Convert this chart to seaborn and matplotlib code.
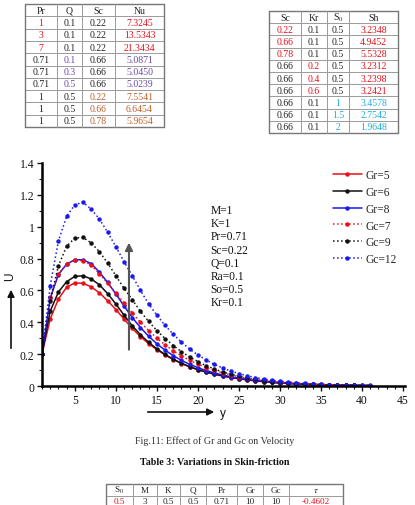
import numpy as np
import pandas as pd
import matplotlib
matplotlib.use("Agg")
import matplotlib.pyplot as plt
from matplotlib.lines import Line2D
from matplotlib.patches import FancyArrowPatch
from matplotlib.ticker import MultipleLocator
import seaborn as sns

# ---------------- data ----------------
y_pos = list(range(1, 42))

gr5 = [0.20, 0.42, 0.546, 0.62, 0.647, 0.645, 0.622, 0.585, 0.535, 0.48, 0.42,
       0.362, 0.31, 0.266, 0.228, 0.195, 0.166, 0.141, 0.12, 0.102, 0.087, 0.074,
       0.063, 0.053, 0.045, 0.038, 0.032, 0.027, 0.023, 0.019, 0.016, 0.013, 0.011,
       0.009, 0.008, 0.006, 0.005, 0.004, 0.004, 0.003, 0.003]
gr6 = [0.20, 0.47, 0.59, 0.655, 0.688, 0.692, 0.672, 0.635, 0.58, 0.515, 0.445,
       0.378, 0.322, 0.274, 0.233, 0.198, 0.168, 0.143, 0.121, 0.103, 0.088, 0.075,
       0.064, 0.054, 0.046, 0.039, 0.033, 0.028, 0.023, 0.019, 0.016, 0.013, 0.011,
       0.009, 0.008, 0.006, 0.005, 0.004, 0.004, 0.003, 0.003]
gr8 = [0.20, 0.55, 0.70, 0.765, 0.793, 0.792, 0.768, 0.715, 0.65, 0.578, 0.502,
       0.43, 0.367, 0.312, 0.265, 0.225, 0.19, 0.161, 0.136, 0.115, 0.097, 0.082,
       0.069, 0.058, 0.049, 0.041, 0.035, 0.029, 0.024, 0.020, 0.017, 0.014, 0.012,
       0.010, 0.008, 0.007, 0.006, 0.005, 0.004, 0.003, 0.003]
gc7 = [0.20, 0.56, 0.703, 0.766, 0.79, 0.787, 0.757, 0.705, 0.645, 0.585, 0.52,
       0.458, 0.40, 0.348, 0.30, 0.258, 0.221, 0.189, 0.161, 0.137, 0.116, 0.098,
       0.083, 0.070, 0.059, 0.049, 0.041, 0.035, 0.029, 0.024, 0.020, 0.017, 0.014,
       0.012, 0.010, 0.008, 0.007, 0.006, 0.005, 0.004, 0.003]
gc9 = [0.20, 0.535, 0.755, 0.877, 0.929, 0.933, 0.898, 0.843, 0.772, 0.692, 0.613,
       0.542, 0.468, 0.405, 0.348, 0.298, 0.254, 0.215, 0.182, 0.153, 0.128, 0.107,
       0.089, 0.074, 0.061, 0.050, 0.041, 0.034, 0.028, 0.023, 0.019, 0.015, 0.012,
       0.010, 0.008, 0.007, 0.005, 0.004, 0.004, 0.003, 0.003]
gc12 = [0.20, 0.63, 0.91, 1.065, 1.138, 1.153, 1.11, 1.048, 0.965, 0.875, 0.78,
        0.692, 0.60, 0.515, 0.445, 0.38, 0.325, 0.275, 0.232, 0.195, 0.163, 0.136,
        0.113, 0.094, 0.078, 0.064, 0.053, 0.044, 0.036, 0.030, 0.025, 0.020, 0.017,
        0.014, 0.011, 0.009, 0.008, 0.006, 0.005, 0.004, 0.004]

series_labels = ["Gr=5", "Gr=6", "Gr=8", "Gc=7", "Gc=9", "Gc=12"]
series_values = [gr5, gr6, gr8, gc7, gc9, gc12]

params_text = ["M=1", "K=1", "Pr=0.71", "Sc=0.22", "Q=0.1", "Ra=0.1", "So=0.5", "Kr=0.1"]

# Table 1
t1_header = ["Pr", "Q", "Sc", "Nu"]
t1_Pr = ["1", "3", "7", "0.71", "0.71", "0.71", "1", "1", "1"]
t1_Q = ["0.1", "0.1", "0.1", "0.1", "0.3", "0.5", "0.5", "0.5", "0.5"]
t1_Sc = ["0.22", "0.22", "0.22", "0.66", "0.66", "0.66", "0.22", "0.66", "0.78"]
t1_Nu = ["7.3245", "13.5343", "21.3434", "5.0871", "5.0450", "5.0239", "7.5541", "6.6454", "5.9654"]

# Table 2
t2_header = ["Sc", "Kr", "S$_0$", "Sh"]
t2_Sc = ["0.22", "0.66", "0.78", "0.66", "0.66", "0.66", "0.66", "0.66", "0.66"]
t2_Kr = ["0.1", "0.1", "0.1", "0.2", "0.4", "0.6", "0.1", "0.1", "0.1"]
t2_S0 = ["0.5", "0.5", "0.5", "0.5", "0.5", "0.5", "1", "1.5", "2"]
t2_Sh = ["3.2348", "4.9452", "5.5328", "3.2312", "3.2398", "3.2421", "3.4578", "2.7542", "1.9648"]

# Table 3
t3_header = ["S$_0$", "M", "K", "Q", "Pr", "Gr", "Gc", r"$\tau$"]
t3_row1 = ["0.5", "3", "0.5", "0.5", "0.71", "10", "10", "-0.4602"]

caption = "Fig.11: Effect of Gr and Gc on Velocity"
table_title = "Table 3: Variations in Skin-friction"

# ---------------- style ----------------
sns.set_theme(style="ticks")
plt.rcParams["font.family"] = ["Liberation Serif", "DejaVu Serif"]
plt.rcParams["mathtext.fontset"] = "stix"

W, H = 415, 506
fig = plt.figure(figsize=(W / 100, H / 100), dpi=100)
fig.patch.set_facecolor("white")

RED = "#e8101a"
BLACK = "#111111"
BLUE = "#1a1aee"
PURPLE = "#6a48a8"
BROWN = "#c0602a"
CYAN = "#1cb0e0"
TXT = "#222222"

def fx(px):
    return px / W

def fy(py):
    return 1 - py / H

def draw_table(col_edges, top, row_hs, rows, colors, fs):
    edges_y = [top]
    for h in row_hs:
        edges_y.append(edges_y[-1] + h)
    nrows = len(rows)
    for i, ye in enumerate(edges_y):
        outer = i in (0, nrows)
        fig.add_artist(Line2D([fx(col_edges[0]), fx(col_edges[-1])], [fy(ye), fy(ye)],
                              transform=fig.transFigure,
                              color="#777777" if outer else "#9a9a9a",
                              lw=1.0 if outer else 0.7))
    for j, xe in enumerate(col_edges):
        outer = j in (0, len(col_edges) - 1)
        fig.add_artist(Line2D([fx(xe), fx(xe)], [fy(edges_y[0]), fy(edges_y[-1])],
                              transform=fig.transFigure,
                              color="#777777" if outer else "#9a9a9a",
                              lw=1.0 if outer else 0.7))
    for i, row in enumerate(rows):
        for j, txt in enumerate(row):
            cx = (col_edges[j] + col_edges[j + 1]) / 2
            cy = (edges_y[i] + edges_y[i + 1]) / 2
            fig.text(fx(cx), fy(cy), txt, ha="center", va="center",
                     fontsize=fs, color=colors[i][j])

# Table 1
rows1 = [t1_header] + [[a, b, c, d] for a, b, c, d in zip(t1_Pr, t1_Q, t1_Sc, t1_Nu)]
cols1 = [[TXT] * 4]
for i in range(9):
    c = [TXT] * 4
    if i < 3:
        c[0] = RED; c[3] = RED
    elif i < 6:
        c[1] = PURPLE; c[3] = PURPLE
    else:
        c[2] = BROWN; c[3] = BROWN
    cols1.append(c)
draw_table([25, 57, 82, 115, 164], 5, [12.3] * 10, rows1, cols1, 7)

# Table 2
rows2 = [t2_header] + [[a, b, c, d] for a, b, c, d in zip(t2_Sc, t2_Kr, t2_S0, t2_Sh)]
cols2 = [[TXT] * 4]
for i in range(9):
    c = [TXT] * 4
    if i < 3:
        c[0] = RED; c[3] = RED
    elif i < 6:
        c[1] = RED; c[3] = RED
    else:
        c[2] = CYAN; c[3] = CYAN
    cols2.append(c)
draw_table([269, 301, 327, 349, 398], 12, [12.2] * 10, rows2, cols2, 7)

# Table 3
rows3 = [t3_header, t3_row1]
cols3 = [[TXT] * 8, [RED, TXT, TXT, TXT, TXT, TXT, TXT, RED]]
draw_table([106, 132.7, 156.7, 180, 206, 237.3, 263.3, 288.7, 343.3], 485,
           [11.5, 11.5], rows3, cols3, 6.6)

# captions
fig.text(fx(215), fy(441.5), caption, ha="center", va="center", fontsize=7.2, color="#333333")
fig.text(fx(215), fy(462.5), table_title, ha="center", va="center", fontsize=7.2,
         fontweight="bold", color="#111111")

# ---------------- chart ----------------
ax = fig.add_axes([fx(42), fy(387), (405 - 42) / W, (387 - 164) / H])
ax.set_facecolor("white")

styles = [
    (RED, "-"), (BLACK, "-"), (BLUE, "-"),
    (RED, ":"), (BLACK, ":"), (BLUE, ":"),
]
for lab, vals, (col, ls) in zip(series_labels, series_values, styles):
    df = pd.DataFrame({"y": y_pos, "U": vals})
    sns.lineplot(data=df, x="y", y="U", ax=ax, color=col, linestyle=ls,
                 lw=1.1, marker="o", markersize=3.2, markeredgewidth=0,
                 label=lab)

ax.set_xlim(1, 45.24)
ax.set_ylim(0, 1.4)
ax.xaxis.set_minor_locator(MultipleLocator(1))
ax.yaxis.set_major_locator(MultipleLocator(0.2))
ax.yaxis.set_minor_locator(MultipleLocator(0.1))
ax.yaxis.set_major_formatter(plt.FuncFormatter(lambda v, p: "%g" % round(v, 2)))
ax.set_xticks([5, 10, 15, 20, 25, 30, 35, 40, 45])
ax.tick_params(axis="both", which="major", direction="out", length=3.5, width=1,
               labelsize=8.4, colors="#111111", pad=2)
ax.tick_params(axis="both", which="minor", direction="out", length=2, width=0.8,
               colors="#111111")
for s in ["top", "right"]:
    ax.spines[s].set_visible(False)
for s in ["left", "bottom"]:
    ax.spines[s].set_linewidth(1.8)
    ax.spines[s].set_color("#000000")
ax.set_xlabel("")
ax.set_ylabel("")

leg = ax.legend(loc="upper left", bbox_to_anchor=((333 - 42) / 363, (387 - 170) / 223),
                frameon=False, fontsize=8.3, handlelength=2.5, handletextpad=0.3,
                labelspacing=0.42, borderpad=0, borderaxespad=0)

ax.text((210.5 - 42) / 363, (387 - 205) / 223, "\n".join(params_text),
        transform=ax.transAxes, ha="left", va="top", fontsize=8.3,
        linespacing=1.13, color="#111111")

ax.annotate("", xy=(11.6, 0.90), xytext=(11.6, 0.228),
            arrowprops=dict(arrowstyle="-|>", color="#555555", lw=1.5,
                            mutation_scale=11, shrinkA=0, shrinkB=0))

# axis labels with arrows
fig.text(fx(10), fy(277), "U", rotation=90, ha="center", va="center",
         fontsize=8.5, family=["Liberation Sans"], color="#111111")
fig.add_artist(FancyArrowPatch((fx(11), fy(352)), (fx(11), fy(288)),
                               transform=fig.transFigure, arrowstyle="-|>",
                               mutation_scale=10, color="#111111", lw=1.2))
fig.text(fx(223), fy(414), "y", ha="center", va="center",
         fontsize=8.5, family=["Liberation Sans"], color="#111111")
fig.add_artist(FancyArrowPatch((fx(145), fy(413)), (fx(217), fy(413)),
                               transform=fig.transFigure, arrowstyle="-|>",
                               mutation_scale=10, color="#111111", lw=1.2))

fig.savefig("out.png", dpi=100, facecolor="white")
